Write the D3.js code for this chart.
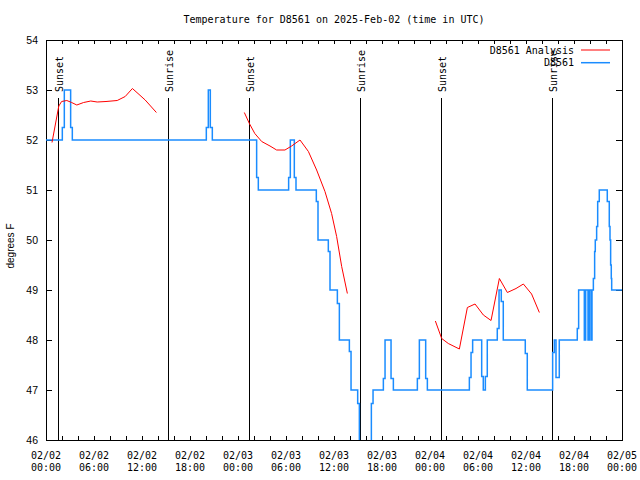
<!DOCTYPE html>
<html>
<head>
<meta charset="utf-8">
<script src="https://cdn.jsdelivr.net/npm/d3@7"></script>
<style>
  html, body { margin: 0; padding: 0; background: #fff; }
  svg { display: block; }
</style>
</head>
<body>
<svg id="chart" width="640" height="480"></svg>
<script>
// ---- data ----
const titleText = "Temperature for D8561 on 2025-Feb-02 (time in UTC)";
const yLabelText = "degrees F";
const seriesNames = ["D8561 Analysis", "D8561"];

// x tick labels (hours since 02/02 00:00 UTC)
const xTickHours = [0, 6, 12, 18, 24, 30, 36, 42, 48, 54, 60, 66, 72];
const xTickDates = ["02/02","02/02","02/02","02/02","02/03","02/03","02/03","02/03","02/04","02/04","02/04","02/04","02/05"];
const xTickTimes = ["00:00","06:00","12:00","18:00","00:00","06:00","12:00","18:00","00:00","06:00","12:00","18:00","00:00"];
const yTicks = [46, 47, 48, 49, 50, 51, 52, 53, 54];

// sunrise / sunset markers
const sunHours = [1.54, 15.25, 25.42, 39.29, 49.42, 63.2];
const sunLabels = ["Sunset", "Sunrise", "Sunset", "Sunrise", "Sunset", "Sunrise"];

// observations (step series)
const obsHours = [0,2.04,2.29,3.08,3.29,
  20.04,20.29,20.54,20.79,
  26.33,26.54,
  30.33,30.54,31.04,31.25,
  33.79,34.0,
  35.29,35.5,
  36.42,36.67,
  37.92,38.13,
  38.96,39.17,
  40.67,40.88,
  42.17,42.38,
  43.13,43.42,
  46.42,46.67,
  47.46,47.67,
  52.92,53.13,53.33,
  54.46,54.66,54.92,55.16,
  56.41,56.63,56.91,57.16,
  59.91,60.16,
  63.33,63.54,63.75,64.16,
  66.41,66.58,67.29,67.46,67.75,67.92,68.13,68.25,
  68.42,68.58,68.66,68.83,68.96,69.16,
  70.16,70.41,70.5,70.58,70.66,70.71,72];
const obsTemps = [52,52.25,53,52.25,52,
  52.25,53,52.25,52,
  51.25,51,
  51.25,52,51.25,51,
  50.77,50,
  49.77,49,
  48.73,48,
  47.77,47,
  46.73,45.5,
  46.73,47,
  47.23,48,
  47.23,47,
  47.23,48,
  47.23,47,
  47.25,47.75,48,
  47.27,47,47.27,48,
  48.23,49,48.77,48,
  47.73,47,
  47.75,48,47.25,48,
  48.23,49,48,49,48,49,48,49,
  49.23,49.77,50,50.27,50.77,51,
  50.77,50.27,50,49.5,49.23,49,49];

// analysis (null = gap)
const anaHours = [0.75,1.6,1.95,2.6,3.2,3.85,4.7,5.6,6.4,7.5,8.9,9.9,10.8,11.5,12.4,13.8,
  null,
  24.79,25.42,26.1,26.96,28.0,28.83,29.87,30.7,31.75,32.8,33.83,34.87,35.7,36.33,36.96,37.67,
  null,
  48.67,49.46,50.29,51.67,52.67,53.63,54.67,55.63,56.67,57.67,58.75,59.67,60.7,61.67];
const anaTemps = [51.95,52.68,52.77,52.79,52.75,52.7,52.75,52.78,52.76,52.77,52.79,52.87,53.03,52.93,52.8,52.55,
  null,
  52.55,52.33,52.13,51.97,51.88,51.8,51.8,51.88,52.0,51.77,51.4,50.97,50.53,50.07,49.47,48.93,
  null,
  48.38,48.03,47.93,47.82,48.65,48.72,48.5,48.39,49.23,48.95,49.03,49.12,48.92,48.55];

// ---- drawing ----
const svg = d3.select("#chart");
const L = 46, R = 622, T = 40, B = 440;
const mono = "'DejaVu Sans Mono', 'Liberation Mono', monospace";
const sans = "'Liberation Sans', Arial, sans-serif";
const blue = "#1a8cff", red = "#ff0000";

const x = d3.scaleLinear().domain([0, 72]).range([L, R]);
const y = d3.scaleLinear().domain([46, 54]).range([B, T]);

svg.append("rect").attr("width", 640).attr("height", 480).attr("fill", "#fff");

svg.append("defs").append("clipPath").attr("id", "clip")
  .append("rect").attr("x", L).attr("y", T).attr("width", R - L).attr("height", B - T);

// title
svg.append("text").attr("x", (L + R) / 2).attr("y", 23)
  .attr("text-anchor", "middle").attr("font-family", mono).attr("font-size", 10)
  .text(titleText);

// y label
svg.append("text").attr("transform", "translate(14,246) rotate(-90)")
  .attr("text-anchor", "middle").attr("font-family", sans).attr("font-size", 10)
  .text(yLabelText);

// axes ticks
const minorHours = d3.range(0, 73, 2);
const gB = svg.append("g").attr("transform", `translate(0,${B})`)
  .call(d3.axisBottom(x).tickValues(minorHours).tickSize(-4).tickFormat(""));
const gT = svg.append("g").attr("transform", `translate(0,${T})`)
  .call(d3.axisTop(x).tickValues(minorHours).tickSize(-4).tickFormat(""));
const gL = svg.append("g").attr("transform", `translate(${L},0)`)
  .call(d3.axisLeft(y).tickValues(yTicks).tickSize(-6).tickPadding(8).tickFormat(d3.format("d")));
const gR = svg.append("g").attr("transform", `translate(${R},0)`)
  .call(d3.axisRight(y).tickValues(yTicks).tickSize(-6).tickFormat(""));
[gB, gT, gL, gR].forEach(g => {
  g.select(".domain").remove();
  g.selectAll("line").attr("stroke", "#000").attr("shape-rendering", "crispEdges");
});
gL.selectAll("text").attr("font-family", sans).attr("font-size", 10.5).attr("fill", "#000");

// x tick labels (two lines)
const xl = svg.append("g").attr("font-family", mono).attr("font-size", 10).attr("text-anchor", "middle");
xTickHours.forEach((h, i) => {
  xl.append("text").attr("x", x(h)).attr("y", 459).text(xTickDates[i]);
  xl.append("text").attr("x", x(h)).attr("y", 471).text(xTickTimes[i]);
});

// frame
svg.append("rect").attr("x", L + 0.5).attr("y", T + 0.5).attr("width", R - L).attr("height", B - T)
  .attr("fill", "none").attr("stroke", "#000").attr("shape-rendering", "crispEdges");

// sun lines
const sg = svg.append("g");
sunHours.forEach((h, i) => {
  const px = Math.round(x(h)) + 0.5;
  sg.append("line").attr("x1", px).attr("x2", px).attr("y1", 98).attr("y2", B)
    .attr("stroke", "#000").attr("stroke-width", 1).attr("shape-rendering", "crispEdges");
  sg.append("text").attr("transform", `translate(${px + 4.5},92) rotate(-90)`)
    .attr("text-anchor", "start").attr("font-family", mono).attr("font-size", 10)
    .text(sunLabels[i]);
});

// observation step line
const obs = obsHours.map((h, i) => [h, obsTemps[i]]);
svg.append("path").attr("clip-path", "url(#clip)")
  .attr("d", d3.line().x(d => x(d[0])).y(d => y(d[1])).curve(d3.curveStepAfter)(obs))
  .attr("fill", "none").attr("stroke", blue).attr("stroke-width", 1.5);

// analysis line
const ana = anaHours.map((h, i) => [h, anaTemps[i]]);
svg.append("path").attr("clip-path", "url(#clip)")
  .attr("d", d3.line().defined(d => d[0] !== null && d[1] !== null).x(d => x(d[0])).y(d => y(d[1]))(ana))
  .attr("fill", "none").attr("stroke", red).attr("stroke-width", 1);

// legend
const lg = svg.append("g").attr("font-family", mono).attr("font-size", 10);
const legColors = [red, blue];
seriesNames.forEach((n, i) => {
  const ly = 50 + i * 12.7;
  lg.append("text").attr("x", 574).attr("y", ly + 3.5).attr("text-anchor", "end").text(n);
  lg.append("line").attr("x1", 581).attr("x2", 610).attr("y1", ly).attr("y2", ly)
    .attr("stroke", legColors[i]).attr("stroke-width", i === 1 ? 1.5 : 1);
});
</script>
</body>
</html>
